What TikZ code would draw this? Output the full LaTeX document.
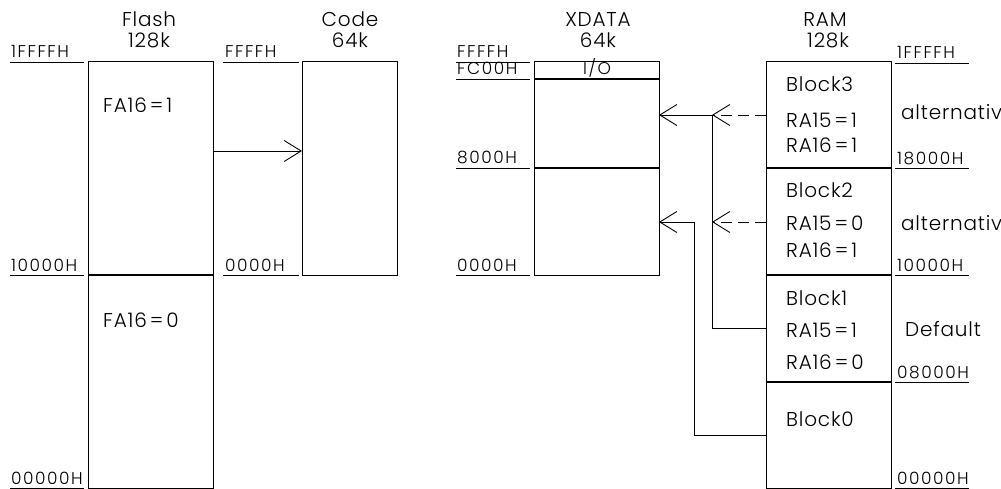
\documentclass[tikz,border=0pt]{standalone}
\usepackage{fontspec}
\setmainfont{Poppins}[UprightFont=* Light]
\newfontfamily\bigfam{Poppins}[UprightFont=* Light,LetterSpace=4]
\newfontfamily\smallfam{Poppins}[UprightFont=* Light,LetterSpace=9]
\usetikzlibrary{arrows.meta}
\newcommand{\eqs}{\kern3pt=\kern3pt}
\begin{document}
\begin{tikzpicture}[x=1pt,y=-1pt,
  box/.style={draw,line width=1pt,inner sep=0pt,outer sep=0pt},
  divider/.style={line width=1.2pt},
  uline/.style={line width=0.9pt},
  link/.style={line width=0.9pt},
  dashlink/.style={line width=0.9pt,dash pattern=on 11pt off 6pt},
  tip/.style={-{Straight Barb[length=17pt,width=21pt,line width=0.9pt]}},
  bigtxt/.style={font=\bigfam\fontsize{20}{22}\selectfont,inner sep=0pt,anchor=base west},
  smalltxt/.style={font=\smallfam\fontsize{17}{19}\selectfont,inner sep=0pt,anchor=base west},
  titletxt/.style={font=\bigfam\fontsize{20}{22}\selectfont,inner sep=0pt,anchor=base},
]
\useasboundingbox (0,0) rectangle (1001,489);
\fill[white] (0,0) rectangle (1001,489);

% boxes
\node[box,minimum width=125pt,minimum height=426pt] (flash) at (150.5,275) {};
\node[box,minimum width=95pt,minimum height=213pt] (code) at (349.5,168.5) {};
\node[box,minimum width=125pt,minimum height=213pt] (xdata) at (596.5,168.5) {};
\node[box,minimum width=125pt,minimum height=426pt] (ram) at (828.5,275) {};

% dividers
\draw[divider] (flash.west |- 0,275) -- (flash.east |- 0,275);
\draw[divider] (xdata.west |- 0,79) -- (xdata.east |- 0,79);
\draw[divider] (xdata.west |- 0,168) -- (xdata.east |- 0,168);
\draw[divider] (ram.west |- 0,168) -- (ram.east |- 0,168);
\draw[divider] (ram.west |- 0,275) -- (ram.east |- 0,275);
\draw[divider] (ram.west |- 0,382) -- (ram.east |- 0,382);

% titles
\node[titletxt] (tflash) at (149,27) {Flash};
\node[titletxt] (tflashs) at (149,48) {128k};
\node[titletxt] (tcode) at (350,27) {Code};
\node[titletxt] (tcodes) at (350,48) {64k};
\node[titletxt] (txdata) at (598,27) {XDATA};
\node[titletxt] (txdatas) at (598,48) {64k};
\node[titletxt] (tram) at (825,27) {RAM};
\node[titletxt] (trams) at (828,48) {128k};

% flash address labels
\node[smalltxt] (fa1) at (11,58) {1FFFFH};
\draw[uline] (10,62) -- (84,62);
\node[smalltxt] (fa2) at (11,271) {10000H};
\draw[uline] (10,275) -- (84,275);
\node[smalltxt] (fa3) at (11,484) {00000H};
\draw[uline] (10,488) -- (84,488);

% code address labels
\node[smalltxt] (ca1) at (225,58) {FFFFH};
\draw[uline] (223,62) -- (299,62);
\node[smalltxt] (ca2) at (225,271) {0000H};
\draw[uline] (223,275) -- (299,275);

% xdata address labels
\node[smalltxt] (xa1) at (457,58) {FFFFH};
\draw[uline] (456,62) -- (530,62);
\node[smalltxt] (xa2) at (457,75) {FC00H};
\draw[uline] (456,79) -- (530,79);
\node[smalltxt] (xa3) at (457,164) {8000H};
\draw[uline] (456,168) -- (530,168);
\node[smalltxt] (xa4) at (457,271) {0000H};
\draw[uline] (456,275) -- (530,275);
\node[smalltxt,anchor=base] (io) at (597,75) {I/O};

% ram address labels
\node[smalltxt] (ra1) at (897,59) {1FFFFH};
\draw[uline] (895,63) -- (969,63);
\node[smalltxt] (ra2) at (897,165) {18000H};
\draw[uline] (895,168) -- (969,168);
\node[smalltxt] (ra3) at (897,271) {10000H};
\draw[uline] (895,275) -- (969,275);
\node[smalltxt] (ra4) at (897,378) {08000H};
\draw[uline] (895,382) -- (969,382);
\node[smalltxt] (ra5) at (897,484) {00000H};
\draw[uline] (895,488) -- (969,488);

% side notes
\node[bigtxt] (alt1) at (901,120) {alternativ};
\node[bigtxt] (alt2) at (901,230) {alternativ};
\node[bigtxt] (def) at (905,336) {Default};

% flash text
\node[bigtxt] (fa16a) at (103,113) {FA16\eqs 1};
\node[bigtxt] (fa16b) at (103,327) {FA16\eqs 0};

% ram text
\node[bigtxt] (b3) at (786,92) {Block3};
\node[bigtxt] (b3a) at (786,128) {RA15\eqs 1};
\node[bigtxt] (b3b) at (786,153) {RA16\eqs 1};
\node[bigtxt] (b2) at (786,198) {Block2};
\node[bigtxt] (b2a) at (786,230) {RA15\eqs 0};
\node[bigtxt] (b2b) at (786,258) {RA16\eqs 1};
\node[bigtxt] (b1) at (786,305) {Block1};
\node[bigtxt] (b1a) at (786,337) {RA15\eqs 1};
\node[bigtxt] (b1b) at (786,369) {RA16\eqs 0};
\node[bigtxt] (b0) at (786,426) {Block0};

% connectors
\coordinate (j3) at (712,115);
\coordinate (j2) at (712,222);
\coordinate (k0) at (694,222);
\draw[link,tip] (flash.east |- 0,151) -- (code.west |- 0,151);
\draw[dashlink,tip] (ram.west |- j3) -- (j3);
\draw[link,tip] (j3) -- (xdata.east |- j3);
\draw[dashlink,tip] (ram.west |- j2) -- (j2);
\draw[link] (ram.west |- 0,328) -| (j3);
\draw[link] (ram.west |- 0,435) -| (k0);
\draw[link,tip] (k0) -- (xdata.east |- k0);
\end{tikzpicture}
\end{document}
